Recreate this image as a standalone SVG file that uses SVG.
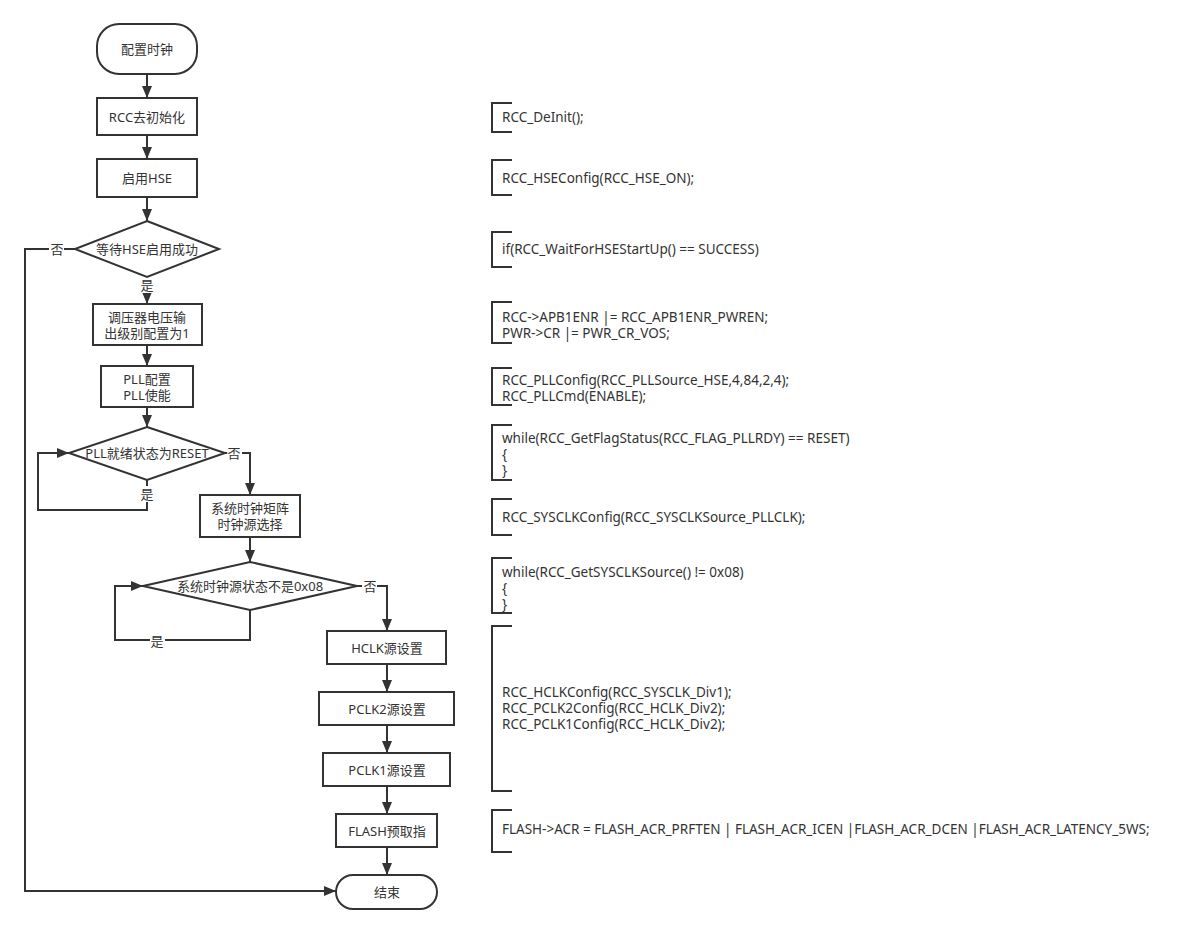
<svg xmlns="http://www.w3.org/2000/svg" width="1200" height="935" viewBox="0 0 1200 935">
<style>
.s{fill:#fff;stroke:#333;stroke-width:2}
.c{fill:none;stroke:#333;stroke-width:2}
.t{font-family:"Noto Sans","Noto Sans CJK SC",sans-serif;font-size:13px;fill:#333}
.k{font-size:13.5px}
.m{text-anchor:middle;dominant-baseline:central}
.b{fill:none;stroke:#333;stroke-width:2}
.lb{fill:#fff}
</style>
<defs>
<marker id="ah" markerUnits="userSpaceOnUse" markerWidth="12" markerHeight="10" viewBox="0 0 12 10" refX="12" refY="5" orient="auto">
<path d="M0,0 L12,5 L0,10 z" fill="#333"/>
</marker>
</defs>
<rect width="1200" height="935" fill="#fff"/>
<g id="connectors">
<path class="c" d="M147,75 V98" marker-end="url(#ah)"/>
<path class="c" d="M147,135 V159" marker-end="url(#ah)"/>
<path class="c" d="M147,197 V221" marker-end="url(#ah)"/>
<path class="c" d="M75,249 H25 V891 H336" marker-end="url(#ah)"/>
<path class="c" d="M147,277 V304" marker-end="url(#ah)"/>
<path class="c" d="M147,345 V366" marker-end="url(#ah)"/>
<path class="c" d="M147,407 V427" marker-end="url(#ah)"/>
<path class="c" d="M147,480 V510 H38 V453 H69" marker-end="url(#ah)"/>
<path class="c" d="M225,453 H250 V495" marker-end="url(#ah)"/>
<path class="c" d="M250,537 V562" marker-end="url(#ah)"/>
<path class="c" d="M250,610 V640 H115 V586 H143" marker-end="url(#ah)"/>
<path class="c" d="M357,586 H387 V631" marker-end="url(#ah)"/>
<path class="c" d="M387,664 V692" marker-end="url(#ah)"/>
<path class="c" d="M387,725 V753" marker-end="url(#ah)"/>
<path class="c" d="M387,786 V814" marker-end="url(#ah)"/>
<path class="c" d="M387,847 V875" marker-end="url(#ah)"/>
<rect class="lb" x="49" y="241" width="15" height="16"/>
<text class="t m" x="57" y="249">否</text>
<rect class="lb" x="140" y="277" width="15" height="16"/>
<text class="t m" x="147" y="285">是</text>
<rect class="lb" x="140" y="486" width="15" height="16"/>
<text class="t m" x="147" y="494">是</text>
<rect class="lb" x="227" y="445" width="15" height="16"/>
<text class="t m" x="234" y="453">否</text>
<rect class="lb" x="150" y="633" width="15" height="16"/>
<text class="t m" x="157" y="641">是</text>
<rect class="lb" x="362" y="578" width="15" height="16"/>
<text class="t m" x="370" y="586">否</text>
</g>
<g id="start"><rect class="s" x="97" y="24" width="100" height="50" rx="22"/><text class="t m" x="147" y="49">配置时钟</text></g>
<g id="deinit"><rect class="s" x="97" y="98" width="100" height="37"/><text class="t m" x="147" y="117">RCC去初始化</text></g>
<g id="hse"><rect class="s" x="97" y="159" width="100" height="38"/><text class="t m" x="147" y="178">启用HSE</text></g>
<g id="waithse"><path class="s" d="M147,221 L219,249 L147,277 L75,249 Z"/><text class="t m" x="147" y="249">等待HSE启用成功</text></g>
<g id="vreg"><rect class="s" x="93" y="304" width="109" height="41"/><text class="t m" x="147" y="317">调压器电压输</text><text class="t m" x="147" y="333">出级别配置为1</text></g>
<g id="pll"><rect class="s" x="101" y="366" width="92" height="41"/><text class="t m" x="147" y="379">PLL配置</text><text class="t m" x="147" y="395">PLL使能</text></g>
<g id="pllrdy"><path class="s" d="M147,427 L225,453 L147,480 L69,453 Z"/><text class="t m" x="147" y="453">PLL就绪状态为RESET</text></g>
<g id="sysclk"><rect class="s" x="200" y="495" width="100" height="42"/><text class="t m" x="250" y="508">系统时钟矩阵</text><text class="t m" x="250" y="524">时钟源选择</text></g>
<g id="sysclkchk"><path class="s" d="M250,562 L357,586 L250,610 L143,586 Z"/><text class="t m" x="250" y="586">系统时钟源状态不是0x08</text></g>
<g id="hclk"><rect class="s" x="327" y="631" width="119" height="33"/><text class="t m" x="387" y="648">HCLK源设置</text></g>
<g id="pclk2"><rect class="s" x="319" y="692" width="135" height="33"/><text class="t m" x="387" y="709">PCLK2源设置</text></g>
<g id="pclk1"><rect class="s" x="323" y="753" width="127" height="33"/><text class="t m" x="387" y="770">PCLK1源设置</text></g>
<g id="flash"><rect class="s" x="336" y="814" width="101" height="33"/><text class="t m" x="387" y="831">FLASH预取指</text></g>
<g id="end"><rect class="s" x="336" y="875" width="101" height="34" rx="17"/><text class="t m" x="387" y="892">结束</text></g>
<g id="code">
<path class="b" d="M512,103 H492 V132 H512"/>
<text class="t k" x="502" y="122">RCC_DeInit();</text>
<path class="b" d="M512,160 H492 V195 H512"/>
<text class="t k" x="502" y="183">RCC_HSEConfig(RCC_HSE_ON);</text>
<path class="b" d="M512,232 H492 V267 H512"/>
<text class="t k" x="502" y="254">if(RCC_WaitForHSEStartUp() == SUCCESS)</text>
<path class="b" d="M512,302 H492 V343 H512"/>
<text class="t k" x="502" y="322">RCC-&gt;APB1ENR |= RCC_APB1ENR_PWREN;</text>
<text class="t k" x="502" y="338">PWR-&gt;CR |= PWR_CR_VOS;</text>
<path class="b" d="M512,368 H492 V405 H512"/>
<text class="t k" x="502" y="385">RCC_PLLConfig(RCC_PLLSource_HSE,4,84,2,4);</text>
<text class="t k" x="502" y="401">RCC_PLLCmd(ENABLE);</text>
<path class="b" d="M512,425 H492 V480 H512"/>
<text class="t k" x="502" y="443">while(RCC_GetFlagStatus(RCC_FLAG_PLLRDY) == RESET)</text>
<text class="t k" x="502" y="459">{</text>
<text class="t k" x="502" y="475">}</text>
<path class="b" d="M512,499 H492 V535 H512"/>
<text class="t k" x="502" y="522">RCC_SYSCLKConfig(RCC_SYSCLKSource_PLLCLK);</text>
<path class="b" d="M512,558 H492 V613 H512"/>
<text class="t k" x="502" y="577">while(RCC_GetSYSCLKSource() != 0x08)</text>
<text class="t k" x="502" y="593">{</text>
<text class="t k" x="502" y="609">}</text>
<path class="b" d="M512,626 H492 V791 H512"/>
<text class="t k" x="502" y="697">RCC_HCLKConfig(RCC_SYSCLK_Div1);</text>
<text class="t k" x="502" y="713">RCC_PCLK2Config(RCC_HCLK_Div2);</text>
<text class="t k" x="502" y="729">RCC_PCLK1Config(RCC_HCLK_Div2);</text>
<path class="b" d="M512,810 H492 V852 H512"/>
<text class="t k" x="502" y="834">FLASH-&gt;ACR = FLASH_ACR_PRFTEN | FLASH_ACR_ICEN |FLASH_ACR_DCEN |FLASH_ACR_LATENCY_5WS;</text>
</g>
</svg>
